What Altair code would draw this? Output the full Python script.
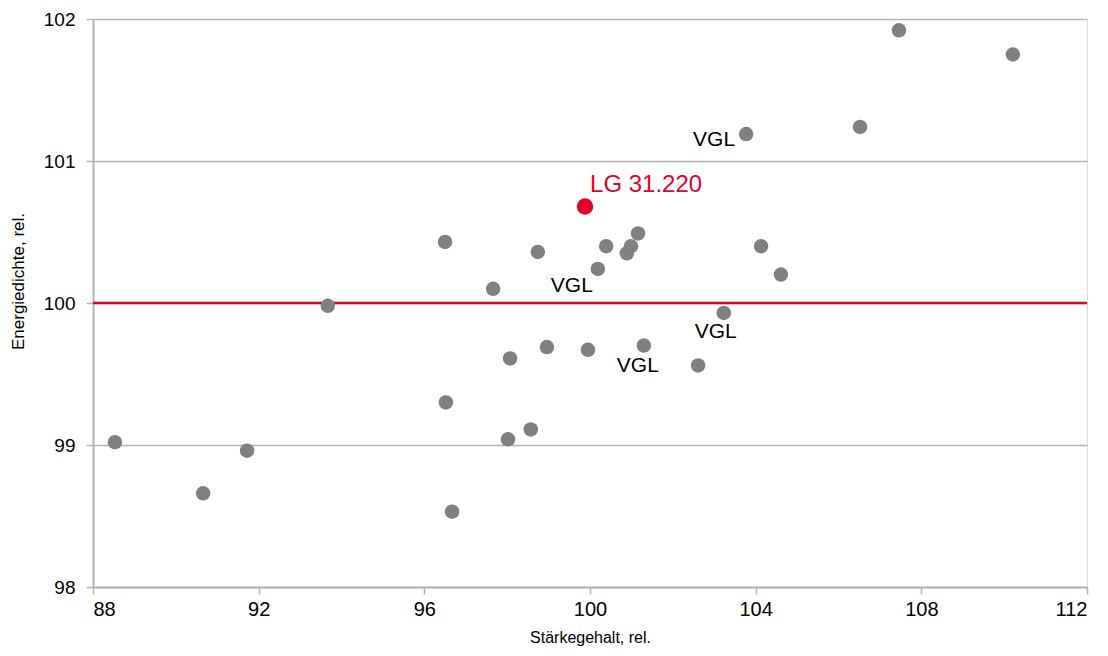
import altair as alt
import pandas as pd

# Stärkegehalt (x) and Energiedichte (y), relative values
x_vals = [88.53, 90.66, 91.72, 93.67, 96.50, 96.52, 96.67, 97.66, 98.07, 98.02,
          98.57, 98.74, 98.96, 99.95, 100.19, 100.39, 100.89, 100.99, 101.16,
          101.30, 102.61, 103.23, 103.77, 104.13, 104.61, 106.52, 107.46, 110.21]
y_vals = [99.02, 98.66, 98.96, 99.98, 100.43, 99.30, 98.53, 100.10, 99.61, 99.04,
          99.11, 100.36, 99.69, 99.67, 100.24, 100.40, 100.35, 100.40, 100.49,
          99.70, 99.56, 99.93, 101.19, 100.40, 100.20, 101.24, 101.92, 101.75]

lg_name = "LG 31.220"
lg_x = [99.88]
lg_y = [100.68]

vgl_x = [103.77, 100.19, 103.23, 101.30]
vgl_y = [101.19, 100.24, 99.93, 99.70]

ref_level = [100]

x_ticks = [88, 92, 96, 100, 104, 108, 112]
y_ticks = [98, 99, 100, 101, 102]

FONT = "Liberation Sans"
GRAY = "#808080"
RED = "#e4002b"
GRID = "#b3b3b3"

pts = pd.DataFrame({"x": x_vals, "y": y_vals})
lg = pd.DataFrame({"x": lg_x, "y": lg_y, "label": [lg_name]})
vgl = pd.DataFrame({"x": vgl_x, "y": vgl_y, "label": ["VGL"] * 4})
ref = pd.DataFrame({"y": ref_level, "x0": [x_ticks[0]], "x1": [x_ticks[-1]]})

xs = alt.Scale(domain=[88, 112], nice=False, zero=False)
ys = alt.Scale(domain=[98, 102], nice=False, zero=False)

xaxis = alt.Axis(values=x_ticks, format="d", title="Stärkegehalt, rel.", grid=False,
                 domainColor=GRID, domainWidth=2, tickColor=GRID, tickWidth=1.5,
                 tickSize=7, labelFontSize=20, labelColor="#000", labelPadding=5,
                 labelFont=FONT, titleFont=FONT, titleFontSize=16,
                 titleFontWeight="normal", titleColor="#000", titleY=42)
yaxis = alt.Axis(values=y_ticks, format="d", title="Energiedichte,  rel.", grid=True,
                 gridColor=GRID, gridWidth=1.5, domainColor=GRID, domainWidth=2,
                 tickColor=GRID, tickWidth=1.5, tickSize=7, labelFontSize=19,
                 labelColor="#000", labelPadding=11, labelFont=FONT,
                 titleFont=FONT, titleFontSize=17, titleFontWeight="normal",
                 titleColor="#000", titleX=-75, titleY=262, titleAngle=-90,
                 titleAlign="center", titleBaseline="middle")

X = alt.X("x:Q", scale=xs, axis=xaxis)
Y = alt.Y("y:Q", scale=ys, axis=yaxis)

ref_line = alt.Chart(ref).mark_rule(color=RED, strokeWidth=2.5).encode(
    x=alt.X("x0:Q", scale=xs, axis=xaxis), x2="x1:Q", y=Y
)

base_pts = alt.Chart(pts).mark_circle(size=210, color=GRAY, opacity=1).encode(x=X, y=Y)

lg_pt = alt.Chart(lg).mark_circle(size=270, color=RED, opacity=1).encode(x=X, y=Y)
lg_txt = alt.Chart(lg).mark_text(align="left", baseline="middle", dx=5, dy=-21,
                                 fontSize=24, font=FONT, color=RED).encode(
    x=X, y=Y, text="label:N"
)

offsets = [(-11, 6, "right"), (-26, 17, "center"), (-8, 19, "center"), (-6, 20, "center")]
vgl_layers = []
for i, (dx, dy, al) in enumerate(offsets):
    vgl_layers.append(
        alt.Chart(vgl.iloc[[i]]).mark_text(align=al, baseline="middle", dx=dx, dy=dy,
                                          fontSize=21, font=FONT, color="#000").encode(
            x=X, y=Y, text="label:N"
        )
    )

chart = alt.layer(ref_line, base_pts, lg_pt, lg_txt, *vgl_layers).properties(
    width=994, height=568,
    autosize=alt.AutoSizeParams(type="none"),
    padding={"left": 85, "top": 11, "right": 13, "bottom": 61},
).configure_view(stroke=GRID, strokeWidth=2).configure(background="white")

chart.save("out.html", embed_options={"renderer": "svg", "actions": False})
